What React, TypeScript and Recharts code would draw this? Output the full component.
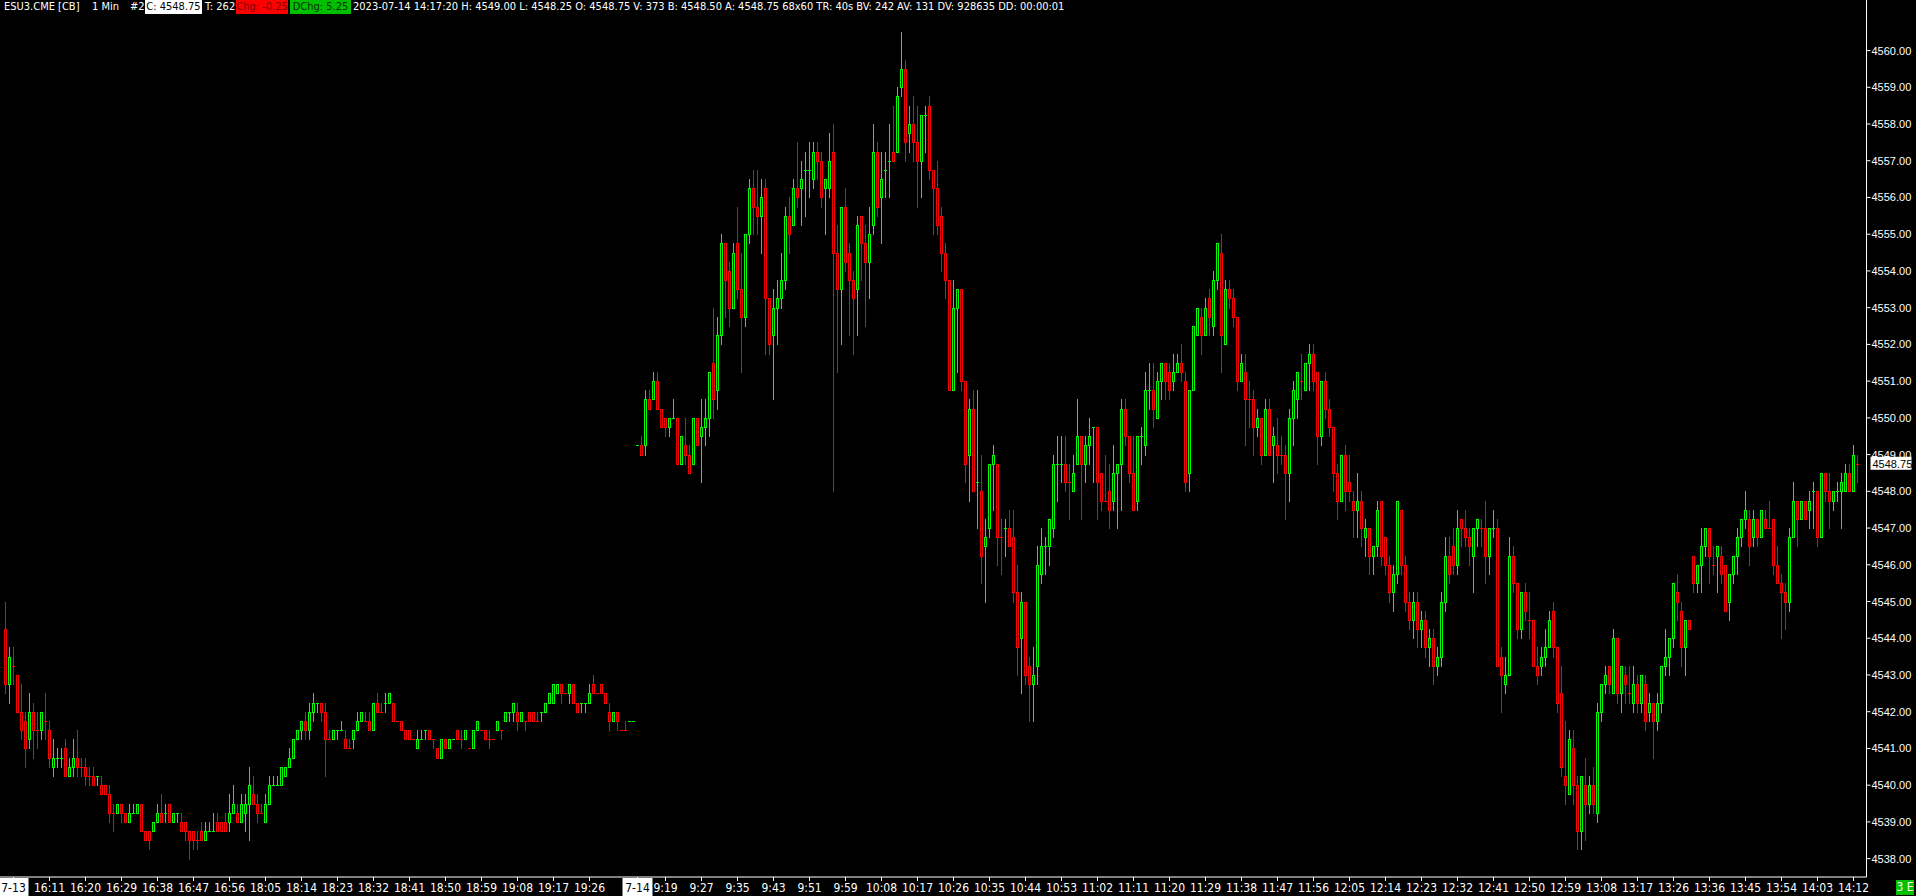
import { ComposedChart, Bar, XAxis, YAxis, ReferenceLine } from "recharts";

const GREEN = "#00ff00";
const RED = "#ff0000";
const WHITE = "#ffffff";
const NARROW = '"Liberation Sans Narrow", "DejaVu Sans Condensed", "Arial Narrow", sans-serif';

// one row per 1-min bar: [open, high, low, close, doji direction (1 up / 0 down)]
// 7-13 evening, 16:00 - 16:59
const bars1600 = [
  [4544.25, 4545, 4542.5, 4542.75], [4542.75, 4543.75, 4542.25, 4543.5], [4543.25, 4543.75, 4542.75, 4543.25, 0],
  [4543, 4543, 4542, 4542], [4542, 4542.75, 4541.25, 4541.5], [4541.75, 4542, 4540.5, 4541],
  [4541.25, 4542.5, 4541, 4542], [4542, 4542.25, 4540.75, 4541.5], [4541.5, 4542, 4541, 4541.5, 0],
  [4541.5, 4542, 4541.25, 4542], [4541.75, 4542.5, 4541.25, 4541.75, 0], [4541.5, 4541.75, 4540.5, 4540.75],
  [4540.5, 4541.25, 4540.25, 4540.75], [4540.75, 4541, 4540.5, 4540.75, 1], [4540.75, 4541, 4540.5, 4540.75, 1],
  [4541, 4541.25, 4540.25, 4540.25], [4540.25, 4540.75, 4540.25, 4540.5], [4540.5, 4541.25, 4540.25, 4540.75],
  [4540.75, 4541.5, 4540.25, 4540.5], [4540.5, 4540.75, 4540.25, 4540.5, 0], [4540.5, 4540.75, 4540, 4540.25],
  [4540.25, 4540.5, 4540, 4540.25, 0], [4540.25, 4540.5, 4540, 4540], [4540.25, 4540.25, 4540, 4540.25, 1],
  [4540, 4540.25, 4539.75, 4539.75], [4540, 4540, 4539.75, 4539.75], [4539.75, 4540, 4539, 4539.25],
  [4539.25, 4539.5, 4538.75, 4539.25, 0], [4539.25, 4539.5, 4539.25, 4539.5], [4539.5, 4539.5, 4539, 4539.25],
  [4539.25, 4539.25, 4539, 4539], [4539, 4539.5, 4539, 4539.25], [4539.25, 4539.5, 4539.25, 4539.25, 1],
  [4539.25, 4539.5, 4539.25, 4539.5], [4539.5, 4539.5, 4538.75, 4538.75], [4538.75, 4538.75, 4538.5, 4538.5],
  [4538.75, 4538.75, 4538.25, 4538.5], [4538.75, 4539, 4538.75, 4539], [4539, 4539.5, 4539, 4539.25],
  [4539.25, 4539.75, 4539, 4539], [4539.25, 4539.5, 4539, 4539.25, 1], [4539.5, 4539.5, 4539, 4539],
  [4539, 4539.25, 4539, 4539.25], [4539.25, 4539.25, 4539, 4539.25, 1], [4539, 4539.25, 4538.75, 4538.75],
  [4539, 4539, 4538.5, 4538.75], [4538.75, 4538.75, 4538, 4538.5], [4538.75, 4538.75, 4538.25, 4538.5],
  [4538.5, 4538.75, 4538.25, 4538.5, 0], [4538.75, 4539, 4538.5, 4538.5], [4538.5, 4539, 4538.5, 4538.75],
  [4538.75, 4539, 4538.75, 4538.75, 1], [4538.75, 4539.25, 4538.75, 4538.75, 1], [4539, 4539.25, 4538.75, 4538.75],
  [4539, 4539, 4538.75, 4538.75], [4539, 4539.25, 4538.75, 4538.75], [4539, 4539.75, 4538.75, 4539.25],
  [4539.25, 4540, 4539.25, 4539.5], [4539.25, 4539.5, 4539, 4539], [4539, 4539.75, 4539, 4539.5],
];

// 7-13 evening, 18:00 onwards
const bars1800 = [
  [4539.25, 4539.75, 4538.75, 4539.5], [4539.5, 4540.5, 4538.5, 4540], [4539.75, 4540.25, 4539.5, 4539.5],
  [4539.5, 4539.75, 4539, 4539.25], [4539.25, 4539.5, 4539.25, 4539.25, 0], [4539, 4539.75, 4539, 4539.5],
  [4539.5, 4540.25, 4539.5, 4540], [4540, 4540.25, 4540, 4540, 1], [4540, 4540.25, 4540, 4540, 1],
  [4540, 4540.5, 4540, 4540.5], [4540.25, 4540.5, 4540.25, 4540.5], [4540.5, 4541, 4540.5, 4540.75],
  [4540.75, 4541.25, 4540.75, 4541.25], [4541.25, 4541.5, 4541.25, 4541.5], [4541.5, 4541.75, 4541.25, 4541.75],
  [4541.75, 4542, 4541.25, 4541.5], [4541.5, 4542.25, 4541.25, 4542], [4542, 4542.5, 4541.75, 4542.25],
  [4542.25, 4542.25, 4542, 4542.25, 1], [4542.25, 4542.25, 4541.75, 4542], [4542, 4542.25, 4540.25, 4541.25],
  [4541.25, 4541.5, 4541.25, 4541.25, 0], [4541.25, 4541.5, 4541.25, 4541.5], [4541.5, 4541.5, 4541.25, 4541.5, 1],
  [4541.5, 4541.75, 4541.5, 4541.5, 1], [4541.25, 4541.5, 4541, 4541], [4541, 4541.25, 4541, 4541, 0],
  [4541.25, 4541.5, 4541, 4541.5], [4541.5, 4542, 4541.5, 4541.75], [4541.75, 4542, 4541.75, 4542],
  [4541.75, 4542, 4541.75, 4541.75, 0], [4541.75, 4542, 4541.5, 4541.5], [4541.5, 4542.25, 4541.5, 4542.25],
  [4542.25, 4542.5, 4542, 4542], [4542, 4542.25, 4542, 4542, 0], [4542.25, 4542.5, 4542, 4542.25, 1],
  [4542.25, 4542.5, 4542.25, 4542.5], [4542.25, 4542.25, 4541.75, 4541.75], [4541.75, 4541.75, 4541.75, 4541.75, 0],
  [4541.75, 4541.75, 4541.5, 4541.5], [4541.5, 4541.5, 4541.25, 4541.25], [4541.5, 4541.5, 4541.25, 4541.25],
  [4541.25, 4541.25, 4541.25, 4541.25, 0], [4541, 4541.5, 4541, 4541.25], [4541.25, 4541.5, 4541.25, 4541.25, 1],
  [4541.5, 4541.5, 4541.25, 4541.5, 1], [4541.5, 4541.5, 4541.25, 4541.25], [4541.25, 4541.25, 4541, 4541.25, 0],
  [4541, 4541, 4540.75, 4540.75], [4540.75, 4541.25, 4540.75, 4541.25], [4541.25, 4541.25, 4541, 4541],
  [4541, 4541.25, 4541, 4541.25], [4541.25, 4541.25, 4541.25, 4541.25, 1], [4541.5, 4541.5, 4541.25, 4541.25],
  [4541.25, 4541.5, 4541, 4541.25, 0], [4541.25, 4541.5, 4541.25, 4541.5], [4541, 4541, 4541, 4541, 0],
  [4541, 4541.5, 4541, 4541.5], [4541.5, 4541.75, 4541.5, 4541.75], [4541.5, 4541.5, 4541.5, 4541.5, 0],
  [4541.5, 4541.5, 4541.25, 4541.25], [4541.25, 4541.5, 4541, 4541.25, 0], [4541.25, 4541.25, 4541.25, 4541.25, 0],
  [4541.5, 4541.75, 4541.5, 4541.75], [4541.5, 4541.5, 4541.25, 4541.5, 0], [4541.75, 4542, 4541.75, 4542],
  [4542, 4542, 4541.75, 4542, 1], [4542, 4542.25, 4541.75, 4542.25], [4542, 4542.25, 4541.5, 4541.75],
  [4541.75, 4542, 4541.75, 4542], [4541.75, 4541.75, 4541.5, 4541.75, 0], [4542, 4542, 4541.75, 4541.75],
  [4542, 4542, 4541.75, 4541.75], [4541.75, 4542, 4541.75, 4541.75, 0], [4542, 4542, 4541.75, 4542, 1],
  [4542, 4542.25, 4542, 4542.25], [4542.25, 4542.5, 4542.25, 4542.5], [4542.25, 4542.75, 4542.25, 4542.75],
  [4542.5, 4542.75, 4542.5, 4542.75], [4542.75, 4542.75, 4542.25, 4542.5], [4542.5, 4542.5, 4542.5, 4542.5, 0],
  [4542.5, 4542.75, 4542.25, 4542.75], [4542.75, 4542.75, 4542.25, 4542.25], [4542.25, 4542.25, 4542, 4542],
  [4542.25, 4542.25, 4542, 4542.25, 1], [4542.25, 4542.25, 4542, 4542.25, 1], [4542.25, 4542.75, 4542.25, 4542.5],
  [4542.75, 4543, 4542.5, 4542.5], [4542.5, 4542.5, 4542.5, 4542.5, 0], [4542.75, 4542.75, 4542.5, 4542.5],
  [4542.5, 4542.5, 4542.25, 4542.25], [4542, 4542.25, 4541.5, 4541.75], [4541.75, 4542, 4541.75, 4542],
  [4542, 4542, 4541.5, 4541.75], [4541.5, 4541.5, 4541.5, 4541.5, 0], [4541.5, 4541.75, 4541.5, 4541.5, 0],
  [4541.75, 4541.75, 4541.75, 4541.75, 1], [4541.75, 4541.75, 4541.75, 4541.75, 1],
];

// 7-14 day session, open to ~10:35
const bars0910 = [
  [4549.25, 4549.25, 4549.25, 4549.25, 1], [4549.25, 4549.5, 4549, 4549], [4549.25, 4550.75, 4549, 4550.5],
  [4550.5, 4550.75, 4550.25, 4550.25], [4550.5, 4551.25, 4550.5, 4551], [4551, 4551.25, 4550.25, 4550.25],
  [4550.25, 4550.25, 4549.75, 4549.75], [4550, 4550, 4549.5, 4549.75], [4549.75, 4550, 4549.5, 4550],
  [4550, 4550.5, 4550, 4550, 1], [4550, 4550, 4548.75, 4548.75], [4548.75, 4549.5, 4548.75, 4549.5],
  [4549.25, 4550, 4548.75, 4549], [4549, 4549.25, 4548.5, 4548.5], [4548.75, 4550, 4548.75, 4550],
  [4550, 4550, 4549.25, 4549.25], [4549.5, 4550.5, 4548.25, 4549.75], [4549.75, 4550.5, 4549.25, 4550],
  [4550, 4551.25, 4549.5, 4551.25], [4551.5, 4553, 4550, 4550.5], [4550.75, 4552.75, 4550.25, 4552.25],
  [4552.25, 4555, 4552, 4554.75], [4554.75, 4554.75, 4552.75, 4553.75], [4554, 4554.25, 4552.5, 4553],
  [4553, 4554.75, 4553, 4554.5], [4554.75, 4555.75, 4553.25, 4553.5], [4553.5, 4554.5, 4551.25, 4552.75],
  [4552.75, 4555, 4552.5, 4555], [4555, 4556.5, 4554.75, 4556.25], [4556.25, 4556.75, 4555, 4555.75],
  [4555.75, 4556.75, 4555, 4555.5], [4555.5, 4556.5, 4554.5, 4556], [4556.25, 4556.5, 4551.75, 4553.25],
  [4553.25, 4553.25, 4551.75, 4552], [4552.25, 4553.5, 4550.5, 4553], [4553, 4553.75, 4552, 4553.25],
  [4553.25, 4554.5, 4553, 4553.75], [4553.75, 4555.75, 4553.5, 4555.5], [4555.5, 4556, 4554.5, 4555],
  [4555.25, 4556.5, 4555.25, 4556.25], [4556.25, 4557.5, 4555.75, 4556], [4556.25, 4557, 4555.25, 4556.5],
  [4556.75, 4557.25, 4555.5, 4556.75, 1], [4556.75, 4557.5, 4556, 4556.75, 1], [4556.5, 4557.5, 4556.25, 4557.25],
  [4557.25, 4557.5, 4556.5, 4557], [4557, 4557.25, 4555.75, 4556], [4556.25, 4556.5, 4555, 4556.5],
  [4556.25, 4557.75, 4556, 4557], [4557.25, 4558, 4548, 4554.5], [4554.5, 4555.25, 4551.25, 4553.5],
  [4553.5, 4555.75, 4552, 4555.75], [4555.75, 4556.25, 4554, 4554.25], [4554.5, 4554.75, 4552.25, 4553.75],
  [4553.75, 4554, 4551.75, 4553.25], [4553.5, 4555.5, 4552.25, 4555.25], [4555.5, 4555.5, 4553.75, 4554.75],
  [4554.75, 4555.25, 4552.5, 4554.25], [4554.25, 4555.75, 4553.25, 4555], [4555.25, 4558, 4555, 4557.25],
  [4557.25, 4557.5, 4555.5, 4555.75], [4556, 4557.25, 4554.75, 4556.5], [4556.75, 4557.25, 4556, 4556.75, 1],
  [4557, 4558, 4556, 4557, 1], [4557.25, 4558.5, 4557, 4557], [4557.25, 4559, 4557.25, 4558.75],
  [4559, 4560.5, 4558.75, 4559.5], [4559.5, 4559.75, 4557, 4557.5], [4557.75, 4558.5, 4557.25, 4558],
  [4558, 4558.75, 4557, 4557.5], [4557.5, 4558.5, 4555.75, 4557], [4557, 4558.25, 4556, 4558.25],
  [4558.25, 4558.5, 4557.25, 4558.25, 1], [4558.5, 4558.75, 4556.5, 4556.75], [4556.75, 4556.75, 4555, 4556.25],
  [4556.25, 4557, 4555, 4555.25], [4555.5, 4555.75, 4554, 4554.5], [4554.5, 4554.75, 4553.25, 4553.75],
  [4553.75, 4553.75, 4550.75, 4550.75], [4550.75, 4553.75, 4550.75, 4553], [4553, 4553.5, 4551.25, 4553.5],
  [4553.5, 4553.5, 4550.75, 4551], [4551, 4551, 4548.25, 4548.75],
];

// 7-14 ~10:35 - 11:55
const bars1040 = [
  [4549, 4550.5, 4547.75, 4550.25], [4550.25, 4550.75, 4548, 4548], [4548.25, 4550.75, 4547, 4548.25, 1],
  [4548, 4549, 4545.5, 4546.25], [4546.5, 4547.25, 4545, 4546.75], [4547, 4548.75, 4546.75, 4548.75],
  [4548.75, 4549.25, 4547.5, 4549], [4548.75, 4548.75, 4546, 4546.75], [4546.75, 4547.25, 4545.75, 4546.75, 0],
  [4547, 4547.25, 4546.25, 4547, 1], [4547, 4547.5, 4546.5, 4546.5], [4546.75, 4547.5, 4545, 4545.25],
  [4545.25, 4546, 4543, 4543.75], [4544, 4545.25, 4542.5, 4545], [4545, 4545, 4542.75, 4543],
  [4543.25, 4543.5, 4541.75, 4542.75], [4542.75, 4543.75, 4541.75, 4543], [4543.25, 4546.5, 4542.75, 4546],
  [4545.75, 4547, 4545.5, 4546.5], [4546.5, 4546.75, 4545.75, 4546.5, 1], [4546.5, 4547.25, 4546, 4547.25],
  [4547, 4549, 4546.75, 4548.75], [4548.75, 4549.5, 4547.75, 4548.75, 1], [4548.75, 4549.5, 4548.25, 4548.75, 1],
  [4548.75, 4549.5, 4548, 4548.25], [4548.25, 4548.75, 4547.25, 4548.25, 0], [4548, 4549, 4548, 4548.5],
  [4548.75, 4550.5, 4548.75, 4549.5], [4549.5, 4549.5, 4547.25, 4548.75], [4548.75, 4549.5, 4548.25, 4549.25],
  [4549.25, 4550, 4548.75, 4549.5], [4549.75, 4549.75, 4548.25, 4549.75, 1], [4549.75, 4549.75, 4547.25, 4548.25],
  [4548.5, 4548.5, 4547.5, 4547.75], [4547.75, 4549, 4547.75, 4547.75, 0], [4548, 4548.75, 4547, 4547.5],
  [4547.75, 4549.25, 4547.5, 4548.5], [4548.5, 4548.75, 4547, 4548.75], [4548.75, 4550.5, 4547.5, 4550.25],
  [4550.25, 4550.5, 4549.25, 4549.5], [4549.5, 4549.5, 4548.25, 4548.5], [4548.5, 4549.5, 4547.5, 4547.5],
  [4547.75, 4549.5, 4547.5, 4549.5], [4549.5, 4549.75, 4548.75, 4549.5, 1], [4549.25, 4551.25, 4549, 4550.75],
  [4550.75, 4551.5, 4550.25, 4550.75, 1], [4550.75, 4551.5, 4549.75, 4550.25], [4550, 4551.25, 4550, 4551],
  [4551, 4551.5, 4550.5, 4551.5], [4551.5, 4551.5, 4550.5, 4551], [4551.25, 4551.5, 4550.5, 4550.75],
  [4551, 4551.75, 4550.75, 4551.25], [4551.25, 4551.75, 4551.25, 4551.5], [4551.5, 4552, 4551, 4551.25],
  [4551, 4551.25, 4548, 4548.25], [4548.5, 4550.75, 4548, 4550.75], [4550.75, 4552.5, 4550.75, 4552.5],
  [4552.25, 4553, 4552.25, 4553], [4552.75, 4553, 4551.75, 4552.25], [4552.25, 4553.25, 4552.25, 4553],
  [4553.25, 4553.5, 4552.25, 4552.75], [4552.5, 4554, 4552.25, 4553.75], [4553.75, 4554.75, 4553.5, 4554.75],
  [4554.5, 4555, 4551.25, 4552.25], [4552, 4553.75, 4552, 4553.5], [4553.5, 4553.75, 4553, 4553.25],
  [4553.25, 4553.5, 4552.5, 4552.75], [4552.75, 4552.75, 4550.75, 4551], [4551, 4551.75, 4551, 4551.5],
  [4551.25, 4551.75, 4549.25, 4550.5], [4550.5, 4551, 4549.75, 4550.5, 0], [4550.5, 4550.75, 4549, 4549.75],
  [4549.75, 4550.25, 4549.5, 4550], [4550, 4550, 4548.75, 4549], [4549, 4550.5, 4549, 4550.25],
  [4550.25, 4550.5, 4549, 4549], [4549.25, 4549.75, 4548.25, 4549.5], [4549.25, 4550, 4548.5, 4549],
  [4549, 4549.5, 4548.75, 4549, 0], [4549, 4549.25, 4547.25, 4548.5],
];

// 7-14 ~11:55 - 13:15
const bars1200 = [
  [4548.5, 4550.25, 4547.75, 4550], [4550, 4551, 4549.25, 4550.75], [4550.5, 4551.25, 4550, 4551.25],
  [4551, 4551.75, 4550.5, 4551, 0], [4550.75, 4551.5, 4550.75, 4551.5], [4551.5, 4552, 4550.75, 4551.75],
  [4551.75, 4552, 4550.75, 4551], [4551.25, 4551.25, 4548.75, 4549.5], [4549.5, 4551, 4549.25, 4551],
  [4551, 4551.25, 4550, 4550.25], [4550.25, 4550.5, 4549.5, 4549.75], [4549.75, 4549.75, 4548, 4548.5],
  [4548.5, 4548.75, 4547.25, 4547.75], [4547.75, 4549, 4547.75, 4549], [4549, 4549.25, 4547.5, 4548],
  [4548.25, 4549, 4547.75, 4548], [4547.75, 4548, 4546.75, 4547.5], [4547.5, 4548.5, 4546.75, 4547.75],
  [4547.75, 4548, 4546.5, 4547], [4546.75, 4547.25, 4546.25, 4547], [4547, 4547, 4545.75, 4546.25],
  [4546.25, 4546.5, 4545.75, 4546.5], [4546.5, 4547.75, 4546.25, 4547.5], [4547.75, 4547.75, 4546, 4546.25],
  [4546.75, 4546.75, 4545.75, 4546], [4546, 4546.25, 4545, 4545.25], [4545.25, 4546, 4544.75, 4545.75],
  [4545.75, 4547.75, 4545.5, 4547.75], [4547.5, 4547.5, 4545.75, 4546], [4546, 4546.25, 4544.75, 4545],
  [4545, 4545.25, 4544.25, 4544.5], [4544.5, 4545.25, 4544, 4545], [4545, 4545.25, 4543.75, 4544.25],
  [4544.25, 4544.75, 4543.75, 4544.5], [4544.5, 4544.75, 4543.5, 4543.75], [4543.75, 4544.25, 4543.25, 4544],
  [4544, 4544.25, 4542.75, 4543.25], [4543.25, 4543.75, 4543, 4543.5], [4543.5, 4545.25, 4543.25, 4545],
  [4545, 4546.75, 4544.75, 4546.25], [4546.25, 4546.75, 4545.5, 4545.75], [4546.5, 4547, 4545.75, 4546],
  [4546, 4547.5, 4545.75, 4547], [4547.25, 4547.25, 4546.5, 4547], [4547, 4547.5, 4546.5, 4546.75],
  [4546.75, 4547, 4546, 4546.5], [4546.25, 4547, 4545.25, 4547], [4547, 4547.25, 4546.5, 4547.25],
  [4547, 4547.25, 4546.5, 4547, 0], [4547, 4547.75, 4545.5, 4546.25], [4546.25, 4547, 4545.75, 4547],
  [4547, 4547.5, 4546.75, 4547, 1], [4547, 4547.25, 4543.25, 4543.25], [4543.5, 4543.75, 4542, 4543],
  [4542.75, 4543.5, 4542.5, 4543], [4543, 4546.75, 4543, 4546.25], [4546.25, 4546.5, 4545.25, 4545.5],
  [4545.5, 4545.5, 4544, 4544.25], [4544.25, 4545.25, 4544, 4545.25], [4545.25, 4545.5, 4544.5, 4544.75],
  [4544.5, 4545.25, 4544, 4544.5, 0], [4544.5, 4544.5, 4543.25, 4543.25], [4543.25, 4543.75, 4542.75, 4543],
  [4543.25, 4543.75, 4543, 4543.5], [4543.5, 4544.25, 4543.25, 4543.75], [4543.75, 4544.75, 4543.75, 4544.5],
  [4544.75, 4545, 4543.5, 4543.75], [4543.75, 4543.75, 4542, 4542.25], [4542.5, 4543.25, 4540.25, 4540.5],
  [4540.25, 4541.75, 4539.5, 4540], [4539.75, 4541.5, 4539.75, 4541.25], [4541, 4541.5, 4539.5, 4540],
  [4540, 4540.25, 4538.25, 4538.75], [4538.75, 4540.25, 4538.25, 4540.25], [4540, 4540.75, 4538.5, 4539.5],
  [4539.5, 4540.25, 4539.25, 4540], [4540, 4540.5, 4539.25, 4539.5], [4539.25, 4542.25, 4539, 4542],
  [4542, 4542.75, 4541.75, 4542.75], [4542.75, 4543.25, 4542.5, 4543],
];

// 7-14 ~13:15 - 14:17
const bars1320 = [
  [4543.25, 4543.25, 4542.5, 4542.75], [4542.5, 4544.25, 4542.5, 4544], [4544, 4544, 4542.25, 4542.5],
  [4542.5, 4543.25, 4542, 4543.25], [4543, 4543.25, 4542.25, 4542.75], [4542.5, 4543.25, 4542.25, 4542.5, 0],
  [4542.25, 4543.25, 4542, 4542.75], [4542.75, 4543, 4542, 4542.25], [4542.25, 4543, 4542, 4543],
  [4542.75, 4543, 4541.5, 4541.75], [4542, 4542.5, 4541.75, 4542.25], [4542.25, 4542.25, 4540.75, 4541.75],
  [4541.75, 4542.5, 4541.5, 4542.25], [4542.25, 4543.25, 4542, 4543.25], [4543.25, 4544.25, 4543, 4543.5],
  [4543.5, 4544, 4543, 4544], [4544, 4545.5, 4543.75, 4545.5], [4545.25, 4545.75, 4544.5, 4545],
  [4544.75, 4545, 4543.25, 4543.75], [4543.75, 4544.5, 4543, 4544.5], [4544.5, 4544.5, 4544.25, 4544.25],
  [4546.25, 4546.25, 4545.25, 4545.5], [4545.5, 4546, 4545.25, 4546], [4546, 4547, 4545.25, 4546.5],
  [4546.5, 4547, 4546.25, 4547], [4547, 4547, 4545.5, 4546.25], [4546, 4546.5, 4545.75, 4546, 0],
  [4546.25, 4546.5, 4545.25, 4546.5], [4546.25, 4546.5, 4545.5, 4545.75], [4546, 4546, 4544.75, 4544.75],
  [4545, 4545.75, 4544.5, 4545.75], [4545.75, 4546.25, 4545.5, 4546.25], [4546.25, 4547, 4545.75, 4546.75],
  [4546.75, 4547.25, 4546.5, 4547.25], [4547.25, 4548, 4547, 4547.5], [4547.25, 4547.5, 4546, 4546.5],
  [4546.75, 4547.5, 4546.5, 4547.25], [4547.25, 4547.25, 4546.5, 4546.75], [4546.75, 4547.5, 4546.75, 4547.5],
  [4547.25, 4547.5, 4547, 4547], [4547, 4547.75, 4547, 4547, 0], [4547.25, 4547.25, 4545.75, 4546],
  [4546, 4546.5, 4545.5, 4545.5], [4545.5, 4545.75, 4544, 4545.25], [4545.25, 4545.5, 4544.25, 4545],
  [4545, 4547, 4544.75, 4546.75], [4546.75, 4548.25, 4546.75, 4547.75], [4547.75, 4547.75, 4546.5, 4547.25],
  [4547.25, 4547.75, 4547.25, 4547.75], [4547.75, 4547.75, 4547.25, 4547.25], [4547.5, 4548, 4547, 4547.75],
  [4548, 4548.25, 4547, 4548, 1], [4548, 4548, 4546.5, 4546.75], [4546.75, 4548.5, 4546.75, 4548.5],
  [4548.5, 4548.5, 4547.75, 4548], [4548, 4548.5, 4547, 4547.75], [4547.75, 4548, 4547.5, 4548],
  [4548, 4548.25, 4547.75, 4548, 1], [4548, 4548.5, 4547, 4548.25], [4548, 4548.75, 4548, 4548.5],
  [4548.5, 4548.75, 4548, 4548], [4548, 4549.25, 4548, 4549], [4548.75, 4549, 4548.25, 4548.75, 0],
];

// axis labels
const sessionDates = ["7-13", "7-14"];
const eveningTimes = ["16:11", "16:20", "16:29", "16:38", "16:47", "16:56", "18:05", "18:14", "18:23",
  "18:32", "18:41", "18:50", "18:59", "19:08", "19:17", "19:26"];
const dayTimes = ["9:19", "9:27", "9:35", "9:43", "9:51", "9:59", "10:08", "10:17", "10:26", "10:35",
  "10:44", "10:53", "11:02", "11:11", "11:20", "11:29", "11:38", "11:47", "11:56", "12:05", "12:14",
  "12:23", "12:32", "12:41", "12:50", "12:59", "13:08", "13:17", "13:26", "13:36", "13:45", "13:54",
  "14:03", "14:12"];
const priceTicks = [4538, 4539, 4540, 4541, 4542, 4543, 4544, 4545, 4546, 4547, 4548, 4549, 4550,
  4551, 4552, 4553, 4554, 4555, 4556, 4557, 4558, 4559, 4560];
const lastPrice = 4548.75;

const eveningBars = [...bars1600, ...bars1800];
const allBars = [...eveningBars, ...bars0910, ...bars1040, ...bars1200, ...bars1320];

const data = allBars.map(([o, h, l, c, dir], i) => ({
  idx: i,
  o,
  h,
  l,
  c,
  up: c > o || (c === o && dir === 1),
  range: [l, h],
}));

// label every 9th bar, date label on the first bar of each day
const tickText = new Map<number, string>();
tickText.set(2, sessionDates[0]);
eveningTimes.forEach((t, k) => tickText.set(11 + 9 * k, t));
const dayStart = eveningBars.length;
tickText.set(dayStart, sessionDates[1]);
dayTimes.forEach((t, k) => tickText.set(dayStart + 7 + 9 * k, t));
const xTicks = [...tickText.keys()].sort((a, b) => a - b);

const Candle = (props: any) => {
  const { x, y, width, height, payload } = props;
  if (x == null || y == null || !payload) return null;
  const { o, h, l, c, up } = payload;
  const color = up ? GREEN : RED;
  const top = Math.min(y, y + height);
  const bottom = Math.max(y, y + height);
  const span = h - l;
  const toY = (p: number) => Math.round(span > 0 ? top + ((h - p) / span) * (bottom - top) : top);
  const cx = x + width / 2;
  const yo = toY(o);
  const yc = toY(c);
  const bTop = Math.min(yo, yc);
  const bBot = Math.max(yo, yc);
  return (
    <g>
      <line x1={cx} x2={cx} y1={toY(h)} y2={toY(l) + 1} stroke={color} strokeWidth={1} />
      {bBot - bTop < 2 ? (
        <line x1={cx - 1.5} x2={cx + 1.5} y1={bTop + 0.5} y2={bTop + 0.5} stroke={color} strokeWidth={1} />
      ) : (
        <rect x={cx - 1} y={bTop + 0.5} width={2} height={bBot - bTop} fill="#000" stroke={color} strokeWidth={1} />
      )}
    </g>
  );
};

const TimeTick = ({ x, y, payload }: any) => {
  const label = tickText.get(payload.value) ?? "";
  const isDate = sessionDates.includes(label);
  return (
    <g>
      {isDate && <rect x={x - 15} y={y - 3} width={30} height={18} fill={WHITE} />}
      <text x={x} y={y + 11} textAnchor="middle" fill={isDate ? "#000" : WHITE} fontSize={12} fontFamily={NARROW}>
        {label}
      </text>
    </g>
  );
};

const PriceTick = ({ x, y, payload }: any) => (
  <text x={x + 1} y={y + 4} textAnchor="start" fill={WHITE} fontSize={11} fontFamily="Liberation Sans, Arial, sans-serif">
    {Number(payload.value).toFixed(2)}
  </text>
);

const PriceTag = ({ viewBox }: any) => {
  const left = viewBox.x + viewBox.width + 4;
  return (
    <g>
      <rect x={left} y={viewBox.y - 7} width={41} height={13} fill={WHITE} />
      <text x={left + 2} y={viewBox.y + 4} fill="#000" fontSize={11} fontFamily="Liberation Sans, Arial, sans-serif">
        {lastPrice.toFixed(2)}
      </text>
    </g>
  );
};

// quote line above the chart, each piece placed where the reference shows it
const headerParts = [
  { text: "ESU3.CME [CB]", left: 4 },
  { text: "1 Min", left: 92 },
  { text: "#2", left: 130 },
  { text: "C: 4548.75", left: 145, width: 57, bg: WHITE, fg: "#000" },
  { text: "T: 262", left: 205 },
  { text: "Chg: -0.25", left: 236, width: 52, bg: RED, fg: "#800000" },
  { text: "DChg: 5.25", left: 290, width: 61, bg: "#00c000", fg: "#003000" },
  { text: "2023-07-14 14:17:20 H: 4549.00 L: 4548.25 O: 4548.75 V: 373 B: 4548.50 A: 4548.75 68x60 TR: 40s BV: 242 AV: 131 DV: 928635 DD: 00:00:01", left: 353 },
];

export default function App() {
  return (
    <div style={{ position: "fixed", left: 0, top: 0, width: 1916, height: 896, background: "#000", overflow: "hidden" }}>
      <ComposedChart
        width={1916}
        height={896}
        data={data}
        margin={{ top: 0, right: 0, bottom: 0, left: 0 }}
        barCategoryGap={0}
        barGap={0}
      >
        <XAxis
          dataKey="idx"
          type="category"
          ticks={xTicks}
          interval={0}
          height={19}
          padding={{ left: 3.5, right: 7 }}
          axisLine={{ stroke: WHITE }}
          tickLine={{ stroke: WHITE }}
          tickSize={4}
          tickMargin={0}
          tick={<TimeTick />}
        />
        <YAxis
          orientation="right"
          type="number"
          domain={[4537.5, 4560.75]}
          ticks={priceTicks}
          interval={0}
          width={49.5}
          padding={{ top: 23, bottom: 0 }}
          axisLine={{ stroke: WHITE }}
          tickLine={{ stroke: WHITE }}
          tickSize={4}
          tickMargin={0}
          tick={<PriceTick />}
        />
        <ReferenceLine y={lastPrice} stroke="none" label={<PriceTag />} />
        <Bar dataKey="range" shape={<Candle />} isAnimationActive={false} />
      </ComposedChart>
      {headerParts.map((p, k) => (
        <div
          key={k}
          style={{
            position: "absolute",
            left: p.left,
            top: 0,
            width: p.width,
            height: 14,
            background: p.bg,
            color: p.fg ?? WHITE,
            fontFamily: NARROW,
            fontSize: 11,
            lineHeight: "14px",
            whiteSpace: "pre",
            textAlign: p.bg ? "center" : "left",
          }}
        >
          {p.text}
        </div>
      ))}
      <div
        style={{
          position: "absolute",
          left: 1896,
          top: 880,
          width: 18,
          height: 15,
          background: "#00c000",
          color: WHITE,
          fontFamily: NARROW,
          fontSize: 12,
          lineHeight: "15px",
          textAlign: "center",
        }}
      >
        3 E
      </div>
    </div>
  );
}
